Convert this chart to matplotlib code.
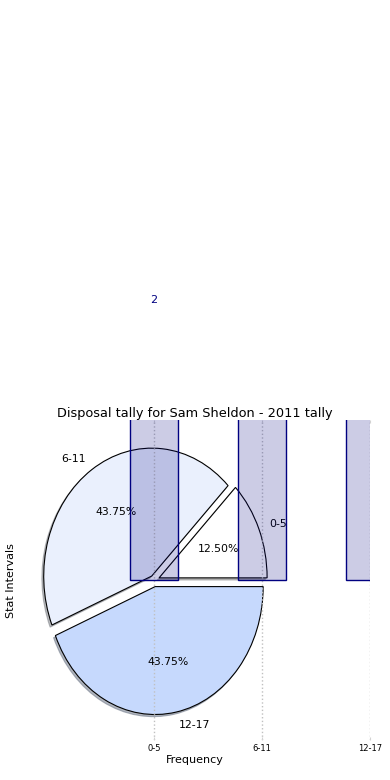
import matplotlib
matplotlib.use('Agg')
import matplotlib.pyplot as plt

# Data
intervals = ['0-5', '6-11', '12-17']
tally = [2, 7, 7]
pie_colors = ['white', '#eaf0fd', '#c6d9fd']
explode = [0.05, 0.04, 0.05]
title = 'Disposal tally for Sam Sheldon - 2011 tally'


def main():
    fig = plt.figure(figsize=(3.9, 7.8), dpi=100)
    ax = fig.add_axes([0.049, 0.051, 0.9, 0.41])

    # Pie of the tally
    ax.pie(tally, labels=intervals, colors=pie_colors, explode=explode,
           autopct='%.2f%%', frame=True,
           shadow={'ox': -0.012, 'oy': -0.012, 'shade': 0.5},
           wedgeprops={'edgecolor': 'black', 'linewidth': 0.8},
           textprops={'fontsize': 7.8})

    # Bars on top of the pie
    pos = list(range(len(intervals)))
    bars = ax.bar(pos, tally, width=0.45, color=(0, 0, 0.5, 0.2),
                  edgecolor='navy', linewidth=1, zorder=3)
    for rect, v in zip(bars, tally):
        ax.text(rect.get_x() + rect.get_width() / 2, v + 0.15, str(v),
                ha='center', va='bottom', color='navy', fontsize=8,
                clip_on=False)

    ax.set_aspect('auto')
    ax.set_xlim(-1.25, 2)
    ax.set_ylim(-1.25, 1.25)
    ax.set_xticks(pos)
    ax.set_xticklabels(intervals, fontsize=6)
    ax.set_yticks([])
    ax.tick_params(axis='x', top=True, direction='in', length=2,
                   color='lightgray', pad=3)
    ax.grid(axis='x', linestyle=':', color='#c0c0c0', linewidth=1, zorder=4)
    ax.set_axisbelow(False)
    for s in ax.spines.values():
        s.set_visible(False)

    ax.set_title(title, fontsize=9.3, pad=2.5)
    ax.set_xlabel('Frequency', fontsize=8, labelpad=1)
    ax.set_ylabel('Stat Intervals', fontsize=8, labelpad=2)

    fig.savefig('out.png', dpi=100)


if __name__ == "__main__":
    main()
